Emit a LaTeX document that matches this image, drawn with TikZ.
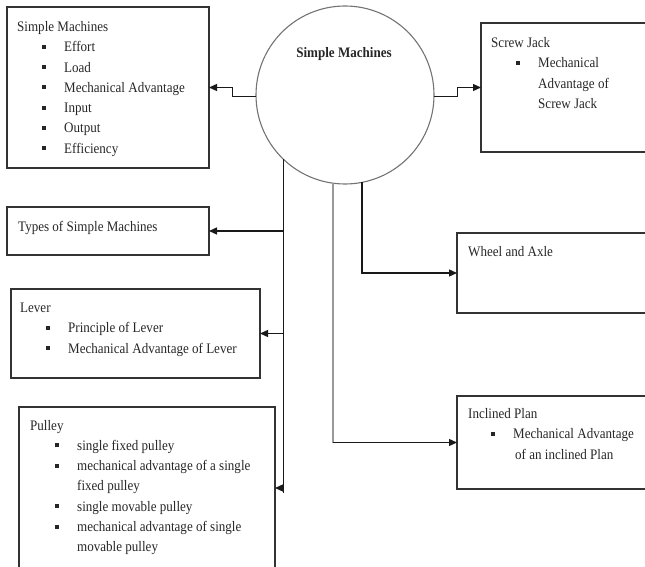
\documentclass[tikz,border=0pt]{standalone}
\usepackage{fontspec}
\setmainfont{Liberation Serif}[FakeStretch=0.9]
\usetikzlibrary{arrows.meta,calc}

% small square bullet followed by the gap before the item text
\newcommand{\bul}{\rule[3pt]{4pt}{4pt}\hspace{18pt}}

\begin{document}
\begin{tikzpicture}[x=1pt,y=-1pt,
  box/.style={draw=black!80,line width=1.1pt,rectangle,inner sep=0pt,outer sep=0pt,anchor=north west},
  txt/.style={anchor=base west,inner sep=0pt,text=black!85,font=\fontsize{14.5}{16}\selectfont},
  link/.style={draw=black!90,line width=1.3pt},
  arr/.style={link,-{Triangle[length=8pt,width=7pt]}},
  hub/.style={circle,draw=black!55,line width=1.1pt,minimum size=178pt,inner sep=0pt,outer sep=0pt}]

\useasboundingbox (0,0) rectangle (645,567);
\clip (0,0) rectangle (645,567);

% central hub
\node[hub] (c) at (345,95) {};
\node[txt,anchor=base,font=\fontsize{14.5}{16}\selectfont\bfseries] (ct) at (344,58) {Simple Machines};

% boxes
\node[box,minimum width=202pt,minimum height=161pt] (sm)  at (7,7)    {};
\node[box,minimum width=179pt,minimum height=129pt] (scr) at (481,23) {};
\node[box,minimum width=202pt,minimum height=48pt]  (typ) at (7,207)  {};
\node[box,minimum width=249pt,minimum height=89pt]  (lev) at (11,289) {};
\node[box,minimum width=256pt,minimum height=162pt] (pul) at (19,407) {};
\node[box,minimum width=203pt,minimum height=80pt]  (whe) at (457,233) {};
\node[box,minimum width=203pt,minimum height=93pt]  (inc) at (457,396) {};

% Simple Machines box
\node[txt] (sm0) at (17,31.5)  {Simple Machines};
\node[txt] (sm1) at (42,51.8)  {\bul Effort};
\node[txt] (sm2) at (42,72.1)  {\bul Load};
\node[txt] (sm3) at (42,92.4)  {\bul Mechanical Advantage};
\node[txt] (sm4) at (42,112.7) {\bul Input};
\node[txt] (sm5) at (42,133)   {\bul Output};
\node[txt] (sm6) at (42,153.3) {\bul Efficiency};

% Screw Jack box
\node[txt] (scr0) at (491,47.5)  {Screw Jack};
\node[txt] (scr1) at (516,67.8)  {\bul Mechanical};
\node[txt] (scr2) at (538,88.1)  {Advantage of};
\node[txt] (scr3) at (538,108.4) {Screw Jack};

% Types box
\node[txt] (typ0) at (18,231) {Types of Simple Machines};

% Lever box
\node[txt] (lev0) at (20,312) {Lever};
\node[txt] (lev1) at (46,332.5) {\bul Principle of Lever};
\node[txt] (lev2) at (46,353) {\bul Mechanical Advantage of Lever};

% Pulley box
\node[txt] (pul0) at (30,430)   {Pulley};
\node[txt] (pul1) at (55,450.3) {\bul single fixed pulley};
\node[txt] (pul2) at (55,470.6) {\bul mechanical advantage of a single};
\node[txt] (pul3) at (77,490.9) {fixed pulley};
\node[txt] (pul4) at (55,511.2) {\bul single movable pulley};
\node[txt] (pul5) at (55,531.5) {\bul mechanical advantage of single};
\node[txt] (pul6) at (77,551.8) {movable pulley};

% Wheel and Axle box
\node[txt] (whe0) at (468,256) {Wheel and Axle};

% Inclined Plan box
\node[txt] (inc0) at (468,418)   {Inclined Plan};
\node[txt] (inc1) at (491,438.5) {\bul Mechanical Advantage};
\node[txt] (inc2) at (515,459)   {of an inclined Plan};

% stepped connectors left and right of the hub
\draw[arr] (c.181) -| ($(c.181)!.5!(sm.east)$) |- (sm.east);
\draw[arr] (c.359) -| ($(c.359)!.5!(scr.west)$) |- (scr.west);

% left trunk with its branches
\draw[link] (c.226) -- ($(c.226 |- pul.east)+(0,5)$);
\draw[arr] (c.226 |- typ.east) -- (typ.east);
\draw[arr] (c.226 |- lev.east) -- (lev.east);
\draw[arr] (c.226 |- pul.east) -- (pul.east);

% right branches
\draw[link,draw=black!40,line width=1.8pt] (c.262) -- (c.262 |- inc.west);
\draw[arr] (c.262 |- inc.west) -- (inc.west);
\draw[arr] (c.281) |- (whe.west);

\end{tikzpicture}
\end{document}
